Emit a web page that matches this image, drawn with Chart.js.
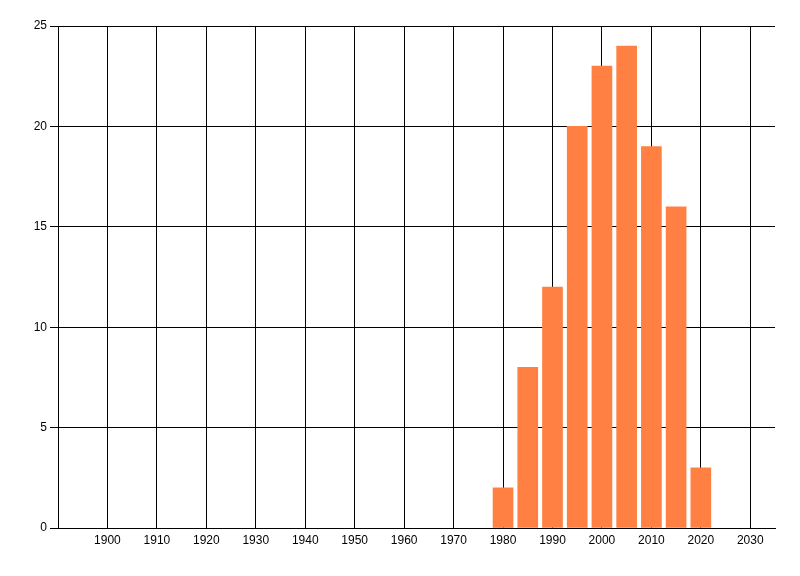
<!DOCTYPE html>
<html>
<head>
<meta charset="utf-8">
<script src="https://cdn.jsdelivr.net/npm/chart.js@4/dist/chart.umd.min.js"></script>
<style>
  html, body { margin: 0; padding: 0; background: #fff; }
</style>
</head>
<body>
<canvas id="canvas" width="800" height="576"></canvas>
<script>
// data
var years = [1980, 1985, 1990, 1995, 2000, 2005, 2010, 2015, 2020];
var counts = [2, 8, 12, 20, 23, 24, 19, 16, 3];
var xTickYears = [1900, 1910, 1920, 1930, 1940, 1950, 1960, 1970, 1980, 1990, 2000, 2010, 2020, 2030];
var yTickValues = [0, 5, 10, 15, 20, 25];

var points = [];
for (var i = 0; i < years.length; i++) {
  points.push({ x: years[i], y: counts[i] });
}

var tickFont = { family: "'Liberation Sans', Arial, sans-serif", size: 12 };

var chart = new Chart(document.getElementById("canvas").getContext("2d"), {
  type: 'bar',
  data: {
    datasets: [{
      label: 'count',
      data: points,
      backgroundColor: 'rgb(255, 128, 66)',
      borderWidth: 0,
      barThickness: 20
    }]
  },
  options: {
    responsive: false,
    animation: false,
    devicePixelRatio: 1,
    layout: { padding: { top: 26, right: 25, left: 0, bottom: 0 } },
    plugins: {
      legend: { display: false },
      tooltip: { enabled: false }
    },
    scales: {
      x: {
        type: 'linear',
        min: 1890,
        max: 2035,
        offset: false,
        afterBuildTicks: function(scale) {
          scale.ticks = xTickYears.map(function(v) { return { value: v }; });
        },
        afterFit: function(scale) { scale.height = 48; },
        grid: { color: '#000', lineWidth: 1, drawTicks: false, offset: false },
        border: { color: '#000', width: 1 },
        ticks: {
          color: '#000',
          font: tickFont,
          padding: 5,
          maxRotation: 0,
          autoSkip: false,
          callback: function(v) { return String(v); }
        }
      },
      y: {
        min: 0,
        max: 25,
        afterBuildTicks: function(scale) {
          scale.ticks = yTickValues.map(function(v) { return { value: v }; });
        },
        afterFit: function(scale) { scale.width = 58; },
        grid: { color: '#000', lineWidth: 1, tickLength: 8 },
        border: { color: '#000', width: 1 },
        ticks: {
          color: '#000',
          font: tickFont,
          padding: 3
        }
      }
    }
  }
});
</script>
</body>
</html>
